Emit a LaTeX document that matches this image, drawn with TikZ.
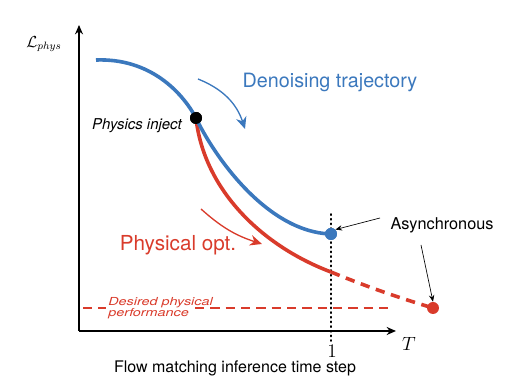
\documentclass[tikz,border=0pt]{standalone}
\usepackage{fontspec}
\setsansfont{TeX Gyre Heros}
\newfontfamily\widesans[FakeStretch=1.3]{TeX Gyre Heros}
\usetikzlibrary{arrows.meta}
\definecolor{myblue}{HTML}{3B78BD}
\definecolor{myred}{HTML}{D93B2B}
\tikzset{
  axis/.style={line width=1.5pt,-{Stealth[length=7pt,width=6pt]}},
  bluecurve/.style={myblue,line width=2.7pt},
  redcurve/.style={myred,line width=2.7pt},
  thinarrow/.style={line width=0.5pt,-{Stealth[length=5pt,width=4pt]}},
  lbl/.style={font=\sffamily},
}
\begin{document}
\begin{tikzpicture}[x=0.75pt,y=-0.75pt]
\useasboundingbox (0,0) rectangle (512,384);
% axes
\coordinate (O) at (79,331);
\coordinate (ytop) at (79,25);
\coordinate (xend) at (396,331);
\draw[axis] (O) -- (ytop);
\draw[axis] (O) -- (xend);
\node[font=\large] (ylab) at (44,44) {$\mathcal{L}_{phys}$};
\node[font=\Large] (xlab) at (409,344) {$T$};
% dotted vertical
\coordinate (vtop) at (331,214);
\coordinate (vbot) at (331,341);
\draw[line width=1.2pt,dash pattern=on 0.9pt off 2.6pt,line cap=round] (vtop) -- (vbot);
\node[font=\Large] (one) at (332,351) {$1$};
\node[font=\sffamily\fontsize{12}{14}\selectfont] (xcap) at (235,368) {Flow matching inference time step};
% desired line
\coordinate (d1) at (83,308);
\coordinate (d2) at (106,308);
\coordinate (d3) at (195,308);
\coordinate (d4) at (394,308);
\draw[myred,line width=2pt,dash pattern=on 7pt off 4.5pt] (d1) -- (d2);
\draw[myred,line width=2pt,dash pattern=on 7pt off 4.5pt] (d3) -- (d4);
\node[myred,font=\widesans\itshape\fontsize{8.3}{8.3}\selectfont,align=left,anchor=west,inner sep=0pt] (desired) at (108,308.5) {Desired physical\\performance};
% curves
\coordinate (b0) at (96,60);
\node[circle,fill=black,inner sep=0pt,minimum size=9pt] (inj) at (196,118) {};
\node[circle,fill=myblue,inner sep=0pt,minimum size=9pt] (bend) at (331,234) {};
\node[circle,fill=myred,inner sep=0pt,minimum size=9pt] (rend) at (433,308) {};
\coordinate (rmid) at (331,272);
\draw[redcurve] (inj.center) .. controls (204,190) and (262,246) .. (rmid);
\draw[redcurve,dash pattern=on 7pt off 5pt] (rmid) .. controls (370,288) and (400,298) .. (rend.center);
\draw[bluecurve] (b0) .. controls (150,58) and (182,92) .. (inj.center)
  .. controls (212,152) and (265,232) .. (bend.center);
\node[circle,fill=black,inner sep=0pt,minimum size=9pt] at (inj) {};
\node[circle,fill=myblue,inner sep=0pt,minimum size=9pt] at (bend) {};
% labels
\node[myblue,font=\sffamily\fontsize{14.8}{17}\selectfont] (den) at (330,82) {Denoising trajectory};
\node[font=\sffamily\itshape\fontsize{11.2}{13}\selectfont] (phyinj) at (137,126) {Physics inject};
\node[myred,font=\sffamily\fontsize{15.5}{18}\selectfont] (popt) at (178,245) {Physical opt.};
\node[font=\sffamily\fontsize{12.2}{14}\selectfont] (async) at (442,225) {Asynchronous};
% curved arrows
\coordinate (ba1) at (198,79);
\coordinate (ba2) at (245,129);
\draw[myblue,line width=1pt,-{Stealth[length=9pt,width=8pt]}] (ba1) to[bend left=25] (ba2);
\coordinate (ra1) at (201,209);
\coordinate (ra2) at (262,244);
\draw[myred,line width=1pt,-{Stealth[length=9pt,width=8pt]}] (ra1) to[bend right=12] (ra2);
% async arrows
\coordinate (aa1) at (380,218);
\coordinate (aa2) at (421,245);
\draw[thinarrow] (aa1) -- (bend.north east);
\draw[thinarrow] (aa2) -- (rend.north);
\end{tikzpicture}
\end{document}
